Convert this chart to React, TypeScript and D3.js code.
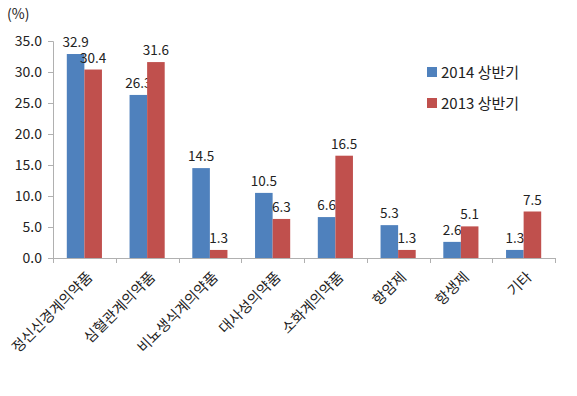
import React, { useEffect, useRef } from 'react';
import * as d3 from 'd3';

const categories = ['정신신경계의약품', '심혈관계의약품', '비뇨생식계의약품', '대사성의약품', '소화계의약품', '항암제', '항생제', '기타'];
const series2014 = [32.9, 26.3, 14.5, 10.5, 6.6, 5.3, 2.6, 1.3];
const series2013 = [30.4, 31.6, 1.3, 6.3, 16.5, 1.3, 5.1, 7.5];
const seriesNames = ['2014 상반기', '2013 상반기'];
const colors = ['#4f81bd', '#c0504d'];
const yTicks = [0, 5, 10, 15, 20, 25, 30, 35];

const W = 577;
const H = 396;
const FONT = "'Noto Sans CJK KR', 'Noto Sans', sans-serif";

export default function App() {
  const ref = useRef<SVGSVGElement>(null);

  useEffect(() => {
    const svg = d3.select(ref.current);
    svg.selectAll('*').remove();

    const left = 53, right = 555, top = 41, bottom = 258;

    const x = d3.scaleBand().domain(categories).range([left, right]).paddingInner(0.44).paddingOuter(0.22);
    const sub = d3.scaleBand().domain(seriesNames).range([0, x.bandwidth()]);
    const y = d3.scaleLinear().domain([0, 35]).range([bottom, top]);
    const step = (right - left) / categories.length;

    // y axis
    const yAxis = svg.append('g').attr('transform', `translate(${left},0)`)
      .call(d3.axisLeft(y).tickValues(yTicks).tickSize(5).tickFormat(d3.format('.1f')));
    yAxis.select('.domain').attr('stroke', '#b0b0b0');
    yAxis.selectAll('line').attr('stroke', '#b0b0b0');
    yAxis.selectAll('text').attr('font-family', FONT).attr('font-size', 14).attr('fill', '#222').attr('x', -11);

    svg.append('text').attr('x', 7).attr('y', 19).attr('font-family', FONT).attr('font-size', 14).attr('fill', '#222').text('(%)');

    // x axis
    svg.append('line').attr('x1', left).attr('x2', right).attr('y1', bottom + 0.5).attr('y2', bottom + 0.5).attr('stroke', '#b0b0b0');
    d3.range(categories.length + 1).forEach(i => {
      const xx = Math.round(left + i * step) + 0.5;
      svg.append('line').attr('x1', xx).attr('x2', xx).attr('y1', bottom).attr('y2', bottom + 5).attr('stroke', '#b0b0b0');
    });

    const all = [series2014, series2013];
    all.forEach((vals, si) => {
      const g = svg.append('g');
      g.selectAll('rect').data(vals).enter().append('rect')
        .attr('x', (d, i) => x(categories[i])! + sub(seriesNames[si])!)
        .attr('y', d => y(d))
        .attr('width', sub.bandwidth())
        .attr('height', d => y(0) - y(d))
        .attr('fill', colors[si]);
      g.selectAll('text').data(vals).enter().append('text')
        .attr('x', (d, i) => x(categories[i])! + sub(seriesNames[si])! + sub.bandwidth() / 2)
        .attr('y', d => y(d) - 7)
        .attr('text-anchor', 'middle')
        .attr('font-family', FONT).attr('font-size', 13.5).attr('fill', '#222')
        .text(d => d.toFixed(1));
    });

    // category labels
    svg.append('g').selectAll('text').data(categories).enter().append('text')
      .attr('transform', d => `translate(${x(d)! + x.bandwidth() / 2 + 9},${bottom + 20}) rotate(-45)`)
      .attr('text-anchor', 'end')
      .attr('font-family', FONT).attr('font-size', 14.5).attr('fill', '#222')
      .text(d => d);

    // legend
    const lg = svg.append('g');
    seriesNames.forEach((n, i) => {
      const cy = 72 + i * 31;
      lg.append('rect').attr('x', 427).attr('y', cy - 5).attr('width', 10).attr('height', 10).attr('fill', colors[i]);
      lg.append('text').attr('x', 441).attr('y', cy + 5.5).attr('font-family', FONT).attr('font-size', 15).attr('fill', '#222').text(n);
    });
  }, []);

  return (
    <svg ref={ref} width={W} height={H} style={{ position: 'absolute', left: 0, top: 0, background: '#fff' }} />
  );
}
